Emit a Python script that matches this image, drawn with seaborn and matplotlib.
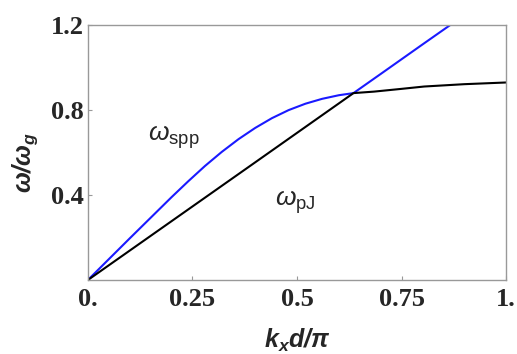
import numpy as np
import pandas as pd
import seaborn as sns
import matplotlib
matplotlib.use("Agg")
import matplotlib.pyplot as plt

# values
spp_k = [0.0, 0.10, 0.20, 0.24, 0.28, 0.32, 0.36, 0.40, 0.44, 0.48, 0.52, 0.56, 0.60, 0.635, 0.70, 0.80, 0.90]
spp_w = [0.0, 0.196, 0.390, 0.465, 0.537, 0.603, 0.663, 0.716, 0.762, 0.800, 0.830, 0.853, 0.870, 0.880, 0.970, 1.109, 1.247]

pj_k = [0.0, 0.20, 0.40, 0.635, 0.684, 0.75, 0.804, 0.90, 1.0]
pj_w = [0.0, 0.277, 0.554, 0.880, 0.887, 0.900, 0.911, 0.922, 0.930]

xticks = [0.0, 0.25, 0.5, 0.75, 1.0]
xticklabels = ["0.", "0.25", "0.5", "0.75", "1."]
yticks = [0.4, 0.8, 1.2]
yticklabels = ["0.4", "0.8", "1.2"]

sns.set_style("white")
plt.rcParams['mathtext.fontset'] = 'custom'
plt.rcParams['mathtext.rm'] = 'Liberation Sans'
plt.rcParams['mathtext.it'] = 'Liberation Sans:italic'
plt.rcParams['mathtext.bf'] = 'Liberation Sans:italic:bold'

df_spp = pd.DataFrame({'k': spp_k, 'w': spp_w})
df_pj = pd.DataFrame({'k': pj_k, 'w': pj_w})

fig = plt.figure(figsize=(5.17, 3.54), dpi=100)
ax = fig.add_axes([0.170, 0.209, 0.809, 0.720])

sns.lineplot(data=df_spp, x='k', y='w', ax=ax, color='#1a1aff', lw=1.5,
             sort=False, estimator=None)
sns.lineplot(data=df_pj, x='k', y='w', ax=ax, color='black', lw=1.5,
             sort=False, estimator=None)

ax.set_xlim(0, 1)
ax.set_ylim(0, 1.2)
ax.set_xticks(xticks)
ax.set_xticklabels(xticklabels)
ax.set_yticks(yticks)
ax.set_yticklabels(yticklabels)
for lab in ax.get_xticklabels() + ax.get_yticklabels():
    lab.set_family('Liberation Serif')
    lab.set_weight('bold')
    lab.set_fontsize(19)
ax.tick_params(direction='in', length=3, width=0.8, color='#999999',
               bottom=True, left=True)
ax.tick_params(axis='x', pad=6)
ax.tick_params(axis='y', pad=3)
for s in ax.spines.values():
    s.set_color('#999999')
    s.set_linewidth(1.0)

ax.set_xlabel(r'$\mathbf{k_x d/\pi}$', fontsize=18, labelpad=11)
ax.set_ylabel(r'$\mathbf{\omega/\omega_g}$', fontsize=18)
ax.yaxis.set_label_coords(-0.115, 0.46)

ax.text(0.144, 0.673, r'$\omega_{\rm spp}$', fontsize=19, va='center', ha='left')
ax.text(0.448, 0.368, r'$\omega_{\rm pJ}$', fontsize=19, va='center', ha='left')

fig.savefig('out.png', dpi=100)
